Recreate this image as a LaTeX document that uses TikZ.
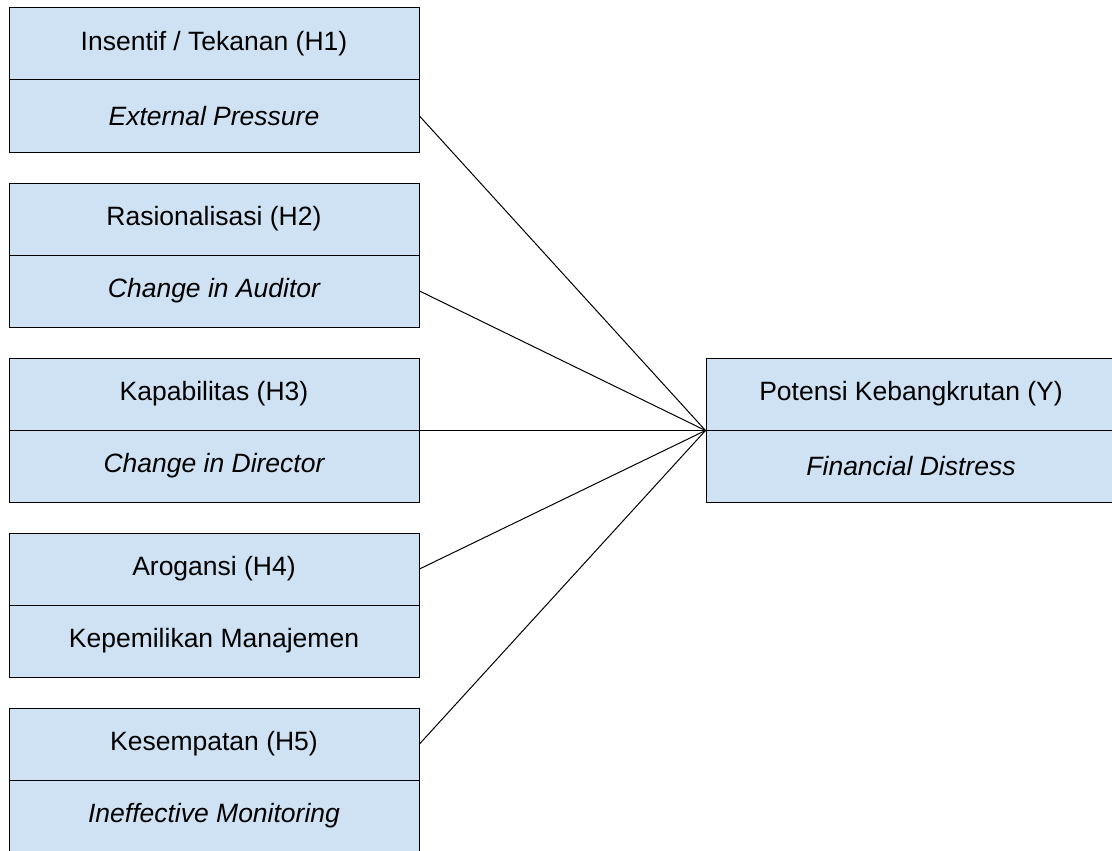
\documentclass[tikz,border=0pt]{standalone}
\usepackage{fontspec}
\setmainfont{Liberation Sans}
\definecolor{cellblue}{HTML}{CFE2F3}
\begin{document}
\begin{tikzpicture}[x=1pt,y=-1pt,
  cell/.style={shape=rectangle,draw=black,fill=cellblue,line width=1pt,minimum width=410pt,minimum height=72pt,inner sep=0pt,font=\fontsize{26.5}{30}\selectfont},
  link/.style={draw=black,line width=1pt}]
\useasboundingbox (0,0) rectangle (1112,851);
\node[cell](h1t) at (214,44) {Insentif / Tekanan (H1)};
\node[cell](h1b) at (214,116) {\itshape External Pressure};

\node[cell](h2t) at (214,219) {Rasionalisasi (H2)};
\node[cell](h2b) at (214,291) {\itshape Change in Auditor};

\node[cell](h3t) at (214,394) {Kapabilitas (H3)};
\node[cell](h3b) at (214,466) {\itshape Change in Director};

\node[cell](h4t) at (214,569) {Arogansi (H4)};
\node[cell](h4b) at (214,641) {Kepemilikan Manajemen};

\node[cell](h5t) at (214,744) {Kesempatan (H5)};
\node[cell](h5b) at (214,816) {\itshape Ineffective Monitoring};

%

\node[cell](yt) at (911,394) {Potensi Kebangkrutan (Y)};
\node[cell](yb) at (911,466) {\itshape Financial Distress};

\path[-] (h1b.east) edge[link] (yt.south west);
\path[-] (h2b.east) edge[link] (yt.south west);
\path[-] (h3t.south east) edge[link] (yt.south west);
\path[-] (h4t.east) edge[link] (yt.south west);
\path[-] (h5t.east) edge[link] (yt.south west);
\end{tikzpicture}
\end{document}
